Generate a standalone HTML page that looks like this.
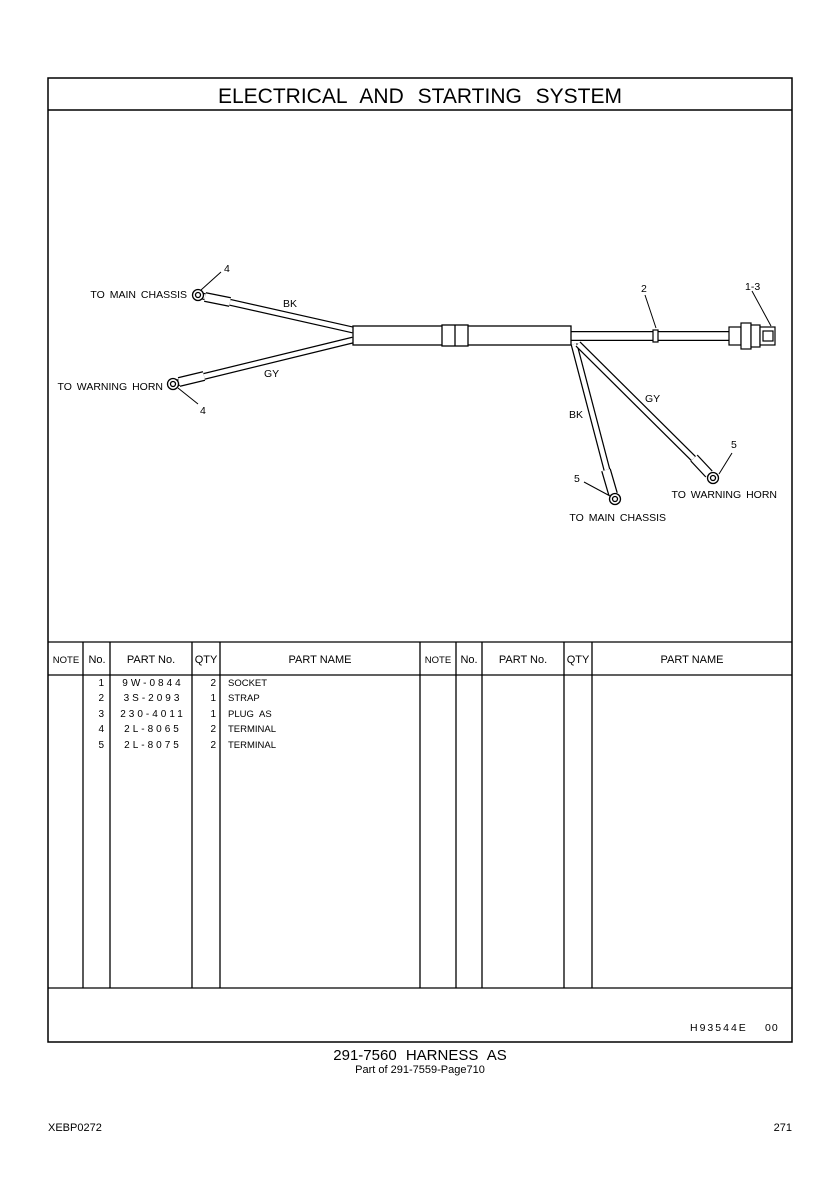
<!DOCTYPE html>
<html><head><style>
html,body{margin:0;padding:0;background:#fff;}
svg{display:block;}
text{font-family:"Liberation Sans",sans-serif;fill:#000;}
</style></head><body>
<svg width="840" height="1188" viewBox="0 0 840 1188" xmlns="http://www.w3.org/2000/svg">
<rect x="48" y="78" width="744" height="964" fill="none" stroke="#000" stroke-width="1.5"/>
<line x1="48" y1="110" x2="792" y2="110" stroke="#000" stroke-width="1.5"/>
<text x="420" y="103" font-size="21" text-anchor="middle" word-spacing="8">ELECTRICAL AND STARTING SYSTEM</text>

<g stroke-linecap="butt" fill="none">
 <line x1="202" y1="296" x2="353" y2="330" stroke="#000" stroke-width="7"/>
 <line x1="202" y1="296" x2="353" y2="330" stroke="#fff" stroke-width="4.5"/>
 <line x1="205" y1="297" x2="230" y2="302" stroke="#000" stroke-width="10"/>
 <line x1="205" y1="297" x2="230" y2="302" stroke="#fff" stroke-width="7.5"/>
 <line x1="177" y1="383" x2="353" y2="340" stroke="#000" stroke-width="7"/>
 <line x1="177" y1="383" x2="353" y2="340" stroke="#fff" stroke-width="4.5"/>
 <line x1="179" y1="382" x2="204" y2="376" stroke="#000" stroke-width="10"/>
 <line x1="179" y1="382" x2="204" y2="376" stroke="#fff" stroke-width="7.5"/>
 <line x1="570" y1="336" x2="730" y2="336" stroke="#000" stroke-width="10"/>
 <line x1="570" y1="336" x2="730" y2="336" stroke="#fff" stroke-width="7.5"/>
 <line x1="574" y1="344" x2="613" y2="493" stroke="#000" stroke-width="7"/>
 <line x1="574" y1="344" x2="613" y2="493" stroke="#fff" stroke-width="4.5"/>
 <line x1="606" y1="470" x2="613" y2="494" stroke="#000" stroke-width="10"/>
 <line x1="606" y1="470" x2="613" y2="494" stroke="#fff" stroke-width="7.5"/>
 <line x1="578" y1="344" x2="709" y2="474" stroke="#000" stroke-width="7"/>
 <line x1="578" y1="344" x2="709" y2="474" stroke="#fff" stroke-width="4.5"/>
 <line x1="694" y1="458" x2="709" y2="474" stroke="#000" stroke-width="10"/>
 <line x1="694" y1="458" x2="709" y2="474" stroke="#fff" stroke-width="7.5"/>
</g>
<g fill="#fff" stroke="#000" stroke-width="1.3">
 <circle cx="198" cy="295" r="5.5"/><circle cx="198" cy="295" r="2.5"/>
 <circle cx="173" cy="384" r="5.5"/><circle cx="173" cy="384" r="2.5"/>
 <circle cx="615" cy="499" r="5.5"/><circle cx="615" cy="499" r="2.5"/>
 <circle cx="713" cy="478" r="5.5"/><circle cx="713" cy="478" r="2.5"/>
</g>
<rect x="353" y="326" width="218" height="19" fill="#fff" stroke="#000" stroke-width="1.3"/>
<rect x="442" y="325" width="26" height="21" fill="#fff" stroke="#000" stroke-width="1.3"/>
<line x1="455" y1="325" x2="455" y2="346" stroke="#000" stroke-width="1.3"/>
<rect x="653" y="330" width="5" height="12" fill="#fff" stroke="#000" stroke-width="1.2"/>
<g fill="#fff" stroke="#000" stroke-width="1.2">
 <rect x="729" y="327" width="12" height="18"/>
 <rect x="741" y="323" width="10" height="26"/>
 <rect x="751" y="325" width="9" height="22"/>
 <rect x="760" y="327" width="15" height="18"/>
 <rect x="763" y="331" width="10" height="10"/>
</g>
<g stroke="#000" stroke-width="1" fill="none">
 <line x1="201" y1="290" x2="221" y2="272"/>
 <line x1="178" y1="388" x2="198" y2="404"/>
 <line x1="645" y1="295" x2="656" y2="328"/>
 <line x1="752" y1="291" x2="771" y2="326"/>
 <line x1="584" y1="482" x2="610" y2="496"/>
 <line x1="719" y1="474" x2="732" y2="453"/>
</g>
<g font-size="10.5">
 <text x="224" y="272">4</text>
 <text x="200" y="414">4</text>
 <text x="641" y="292">2</text>
 <text x="745" y="290">1-3</text>
 <text x="574" y="482">5</text>
 <text x="731" y="448">5</text>
 <text x="283" y="307">BK</text>
 <text x="264" y="377">GY</text>
 <text x="569" y="418">BK</text>
 <text x="645" y="402">GY</text>
 <text x="187" y="298" text-anchor="end" word-spacing="2">TO MAIN CHASSIS</text>
 <text x="163" y="390" text-anchor="end" word-spacing="2">TO WARNING HORN</text>
 <text x="777" y="498" text-anchor="end" word-spacing="2">TO WARNING HORN</text>
 <text x="666" y="521" text-anchor="end" word-spacing="2">TO MAIN CHASSIS</text>
</g>

<g stroke="#000" stroke-width="1.3">
 <line x1="48" y1="642" x2="792" y2="642"/>
 <line x1="48" y1="675" x2="792" y2="675"/>
 <line x1="48" y1="988" x2="792" y2="988"/>
 <line x1="83" y1="642" x2="83" y2="988"/>
 <line x1="110" y1="642" x2="110" y2="988"/>
 <line x1="192" y1="642" x2="192" y2="988"/>
 <line x1="220" y1="642" x2="220" y2="988"/>
 <line x1="420" y1="642" x2="420" y2="988"/>
 <line x1="456" y1="642" x2="456" y2="988"/>
 <line x1="482" y1="642" x2="482" y2="988"/>
 <line x1="564" y1="642" x2="564" y2="988"/>
 <line x1="592" y1="642" x2="592" y2="988"/>
</g>
<g font-size="11" text-anchor="middle">
 <text x="66" y="663" font-size="9.5">NOTE</text>
 <text x="97" y="663">No.</text>
 <text x="151" y="663">PART No.</text>
 <text x="206" y="663">QTY</text>
 <text x="320" y="663">PART NAME</text>
 <text x="438" y="663" font-size="9.5">NOTE</text>
 <text x="469" y="663">No.</text>
 <text x="523" y="663">PART No.</text>
 <text x="578" y="663">QTY</text>
 <text x="692" y="663">PART NAME</text>
</g>
<g font-size="10">
 <g text-anchor="end">
  <text x="104" y="686">1</text><text x="104" y="701">2</text><text x="104" y="717">3</text><text x="104" y="732">4</text><text x="104" y="748">5</text>
  <text x="216" y="686">2</text><text x="216" y="701">1</text><text x="216" y="717">1</text><text x="216" y="732">2</text><text x="216" y="748">2</text>
 </g>
 <g text-anchor="middle" letter-spacing="3">
  <text x="153" y="686">9W-0844</text><text x="153" y="701">3S-2093</text><text x="153" y="717">230-4011</text><text x="153" y="732">2L-8065</text><text x="153" y="748">2L-8075</text>
 </g>
 <text x="228" y="686" font-size="9.5">SOCKET</text>
 <text x="228" y="701" font-size="9.5">STRAP</text>
 <text x="228" y="717" font-size="9.5" word-spacing="3">PLUG AS</text>
 <text x="228" y="732" font-size="9.5">TERMINAL</text>
 <text x="228" y="748" font-size="9.5">TERMINAL</text>
</g>
<text x="690" y="1031" font-size="10.5" letter-spacing="2">H93544E</text>
<text x="765" y="1031" font-size="10.5" letter-spacing="1">00</text>
<text x="420" y="1060" font-size="15" text-anchor="middle" word-spacing="5">291-7560 HARNESS AS</text>
<text x="420" y="1073" font-size="11" text-anchor="middle">Part of 291-7559-Page710</text>
<text x="48" y="1131" font-size="11">XEBP0272</text>
<text x="792" y="1131" font-size="11" text-anchor="end">271</text>
</svg>
</body></html>
